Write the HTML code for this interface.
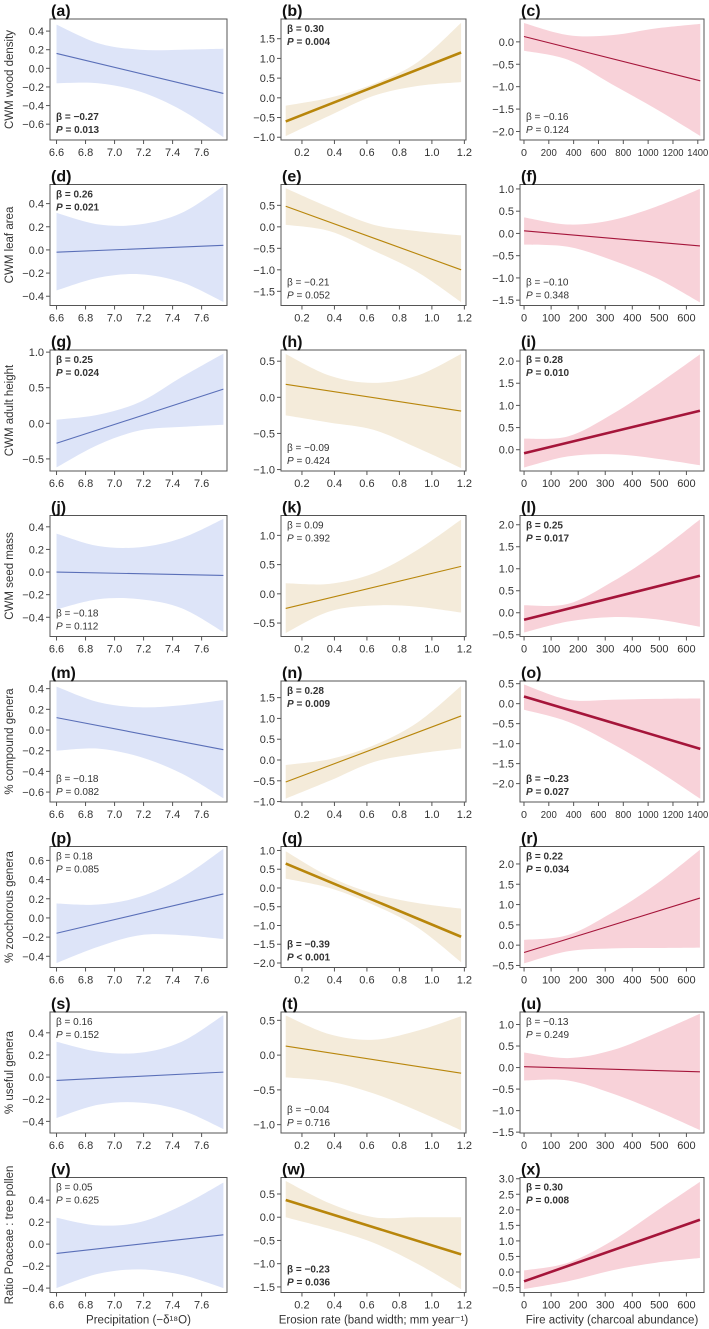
<!DOCTYPE html>
<html><head><meta charset="utf-8"><style>
html,body{margin:0;padding:0;background:#fff;}
svg{display:block;font-family:"Liberation Sans",Arial,sans-serif;}
</style></head><body>
<svg id="fig" width="709" height="1329" viewBox="0 0 709 1329" xmlns="http://www.w3.org/2000/svg"></svg>
<script>
// ---- data ----
const panelLetters = ['a','b','c','d','e','f','g','h','i','j','k','l','m','n','o','p','q','r','s','t','u','v','w','x'];
const rowTitles = ['CWM wood density','CWM leaf area','CWM adult height','CWM seed mass','% compound genera','% zoochorous genera','% useful genera','Ratio Poaceae : tree pollen'];
const yDomains = [[-0.77,0.53],[-1.07,2.0],[-2.19,0.51],[-0.48,0.565],[-1.83,0.985],[-1.62,1.1],[-0.67,1.03],[-1.02,0.655],[-0.48,2.25],[-0.57,0.5],[-0.73,1.34],[-0.54,2.21],[-0.696,0.474],[-1.01,1.9],[-2.46,0.567],[-0.517,0.745],[-2.12,1.106],[-0.55,2.43],[-0.505,0.588],[-1.12,0.62],[-1.52,1.29],[-0.44,0.606],[-1.62,0.855],[-0.66,3.04]];
const yTickLo = [-0.6,-1.0,-2.0,-0.4,-1.5,-1.5,-0.5,-1.0,0.0,-0.4,-0.5,-0.5,-0.6,-1.0,-2.0,-0.4,-2.0,-0.5,-0.4,-1.0,-1.5,-0.4,-1.5,-0.5];
const yTickHi = [0.4,1.5,0.0,0.4,0.5,1.0,1.0,0.5,2.0,0.4,1.0,2.0,0.4,1.5,0.5,0.6,1.0,2.0,0.4,0.5,1.0,0.4,0.5,3.0];
const yTickStep = [0.2,0.5,0.5,0.2,0.5,0.5,0.5,0.5,0.5,0.2,0.5,0.5,0.2,0.5,0.5,0.2,0.5,0.5,0.2,0.5,0.5,0.2,0.5,0.5];
const lineStart = [0.16,-0.6,0.12,-0.02,0.48,0.06,-0.28,0.18,-0.08,0.0,-0.25,-0.16,0.12,-0.53,0.18,-0.16,0.65,-0.18,-0.03,0.13,0.02,-0.085,0.37,-0.3];
const lineEnd = [-0.27,1.15,-0.87,0.04,-1.0,-0.28,0.48,-0.19,0.88,-0.03,0.47,0.84,-0.19,1.06,-1.13,0.25,-1.3,1.16,0.045,-0.26,-0.1,0.085,-0.8,1.68];
const bandUpper = [[0.47,0.27,0.2,0.2,0.21],[-0.2,0.0,0.35,0.9,1.9],[0.42,0.15,0.15,0.3,0.4],[0.32,0.22,0.22,0.32,0.55],[0.9,0.45,0.05,-0.1,-0.2],[0.36,0.2,0.3,0.6,1.0],[0.05,0.12,0.3,0.65,0.98],[0.6,0.3,0.2,0.3,0.6],[0.25,0.3,0.8,1.45,2.15],[0.34,0.23,0.22,0.3,0.47],[0.18,0.17,0.35,0.75,1.27],[0.17,0.2,0.7,1.35,2.12],[0.42,0.27,0.22,0.24,0.29],[-0.12,0.02,0.35,0.9,1.78],[0.48,0.1,0.1,0.12,0.13],[0.15,0.14,0.22,0.42,0.72],[0.98,0.3,-0.15,-0.4,-0.55],[0.13,0.25,0.8,1.5,2.35],[0.32,0.23,0.22,0.32,0.56],[0.57,0.3,0.22,0.35,0.56],[0.35,0.22,0.4,0.8,1.25],[0.24,0.17,0.2,0.35,0.56],[0.78,0.3,0.0,0.0,0.0],[0.05,0.3,1.0,1.95,2.9]];
const bandLower = [[-0.16,-0.16,-0.25,-0.45,-0.74],[-0.97,-0.45,0.05,0.3,0.4],[-0.2,-0.4,-0.95,-1.5,-2.1],[-0.35,-0.24,-0.21,-0.28,-0.45],[0.05,-0.1,-0.55,-1.05,-1.75],[-0.25,-0.3,-0.6,-1.0,-1.55],[-0.62,-0.3,-0.1,-0.05,-0.02],[-0.25,-0.35,-0.45,-0.7,-0.98],[-0.4,-0.15,-0.1,-0.2,-0.35],[-0.33,-0.24,-0.24,-0.32,-0.53],[-0.67,-0.3,-0.2,-0.22,-0.32],[-0.45,-0.2,-0.1,-0.15,-0.32],[-0.2,-0.18,-0.26,-0.42,-0.66],[-0.93,-0.5,-0.05,0.15,0.28],[-0.15,-0.45,-1.0,-1.65,-2.38],[-0.47,-0.3,-0.18,-0.18,-0.22],[0.25,0.0,-0.45,-1.05,-1.98],[-0.45,-0.15,-0.08,-0.07,-0.06],[-0.37,-0.25,-0.23,-0.3,-0.47],[-0.32,-0.38,-0.55,-0.8,-1.08],[-0.3,-0.3,-0.6,-1.0,-1.45],[-0.4,-0.27,-0.23,-0.28,-0.4],[0.0,-0.25,-0.55,-1.0,-1.55],[-0.55,-0.3,0.05,0.3,0.45]];
const betaLabels = ['−0.27','0.30','−0.16','0.26','−0.21','−0.10','0.25','−0.09','0.28','−0.18','0.09','0.25','−0.18','0.28','−0.23','0.18','−0.39','0.22','0.16','−0.04','−0.13','0.05','−0.23','0.30'];
const pLabels = ['= 0.013','= 0.004','= 0.124','= 0.021','= 0.052','= 0.348','= 0.024','= 0.424','= 0.010','= 0.112','= 0.392','= 0.017','= 0.082','= 0.009','= 0.027','= 0.085','< 0.001','= 0.034','= 0.152','= 0.716','= 0.249','= 0.625','= 0.036','= 0.008'];
const significant = [1,1,0,1,0,0,1,0,1,0,0,1,0,1,1,0,1,1,0,0,0,0,1,1];
const thickLine = [0,1,0,0,0,0,0,0,1,0,0,1,0,0,1,0,1,0,0,0,0,0,1,1];
const statsAtTop = [0,1,0,1,0,0,1,0,1,0,1,1,0,1,0,1,0,1,1,0,1,1,0,1];
const fireWide = [1,0,0,0,1,0,0,0]; // column-c panels using 0–1400 axis, by row
const xTitles = ['Precipitation (−δ¹⁸O)','Erosion rate (band width; mm year⁻¹)','Fire activity (charcoal abundance)'];

// ---- layout ----
const NS='http://www.w3.org/2000/svg';
const svg=document.getElementById('fig');
const colL=[50,281,520], colR=[227,466,704];
const TOP0=19, PITCH=165.5;
const colors=[{band:'#dde4f8',line:'#5a6fb8'},{band:'#f4ebda',line:'#b8860b'},{band:'#f8d2d9',line:'#a5153a'}];
function mk(tag,attrs,parent){const e=document.createElementNS(NS,tag);for(const k in attrs)e.setAttribute(k,attrs[k]);(parent||svg).appendChild(e);return e;}
function fmt(v,d){const s=Math.abs(v).toFixed(d);return (v<-1e-9?'−':'')+s;}
function smooth(pts){let d='';for(let i=0;i<pts.length-1;i++){const p0=pts[Math.max(0,i-1)],p1=pts[i],p2=pts[i+1],p3=pts[Math.min(pts.length-1,i+2)];
 const c1=[p1[0]+(p2[0]-p0[0])/6,p1[1]+(p2[1]-p0[1])/6],c2=[p2[0]-(p3[0]-p1[0])/6,p2[1]-(p3[1]-p1[1])/6];
 d+=`C${c1[0].toFixed(1)},${c1[1].toFixed(1)} ${c2[0].toFixed(1)},${c2[1].toFixed(1)} ${p2[0].toFixed(1)},${p2[1].toFixed(1)} `;}return d;}

for(let p=0;p<24;p++){
 const row=Math.floor(p/3), col=p%3;
 const H=row===7?115:121;
 const L=colL[col], R=colR[col], T=TOP0+PITCH*row, B=T+H;
 let xd, xs, xticks, xdec;
 if(col===0){xd=[6.555,7.775];xs=[6.6,7.75];xticks=[6.6,6.8,7.0,7.2,7.4,7.6];xdec=1;}
 else if(col===1){xd=[0.071,1.21];xs=[0.1,1.18];xticks=[0.2,0.4,0.6,0.8,1.0,1.2];xdec=1;}
 else if(fireWide[row]){xd=[-32,1450];xs=[0,1420];xticks=[0,200,400,600,800,1000,1200,1400];xdec=0;}
 else {xd=[-15,665];xs=[0,650];xticks=[0,100,200,300,400,500,600];xdec=0;}
 const yd=yDomains[p];
 const X=v=>L+(v-xd[0])/(xd[1]-xd[0])*(R-L);
 const Y=v=>B-(v-yd[0])/(yd[1]-yd[0])*(B-T);
 const g=mk('g',{});
 
 
 const cp=mk('clipPath',{id:'clip'+p},g);mk('rect',{x:L,y:T,width:R-L,height:H},cp);
 const bx=[0,1,2,3,4].map(i=>xs[0]+(xs[1]-xs[0])*i/4);
 const up=bx.map((x,i)=>[X(x),Y(bandUpper[p][i])]);
 const lo=bx.map((x,i)=>[X(x),Y(bandLower[p][i])]).reverse();
 const band=mk('path',{d:`M${up[0][0].toFixed(1)},${up[0][1].toFixed(1)} `+smooth(up)+`L${lo[0][0].toFixed(1)},${lo[0][1].toFixed(1)} `+smooth(lo)+'Z',fill:colors[col].band,'clip-path':`url(#clip${p})`},g);
 
 
 const ln=mk('line',{x1:X(xs[0]),y1:Y(lineStart[p]),x2:X(xs[1]),y2:Y(lineEnd[p]),stroke:colors[col].line,'stroke-width':thickLine[p]?2.6:1.1},g);
 
 
 const box=mk('rect',{x:L,y:T,width:R-L,height:H,fill:'none',stroke:'#555','stroke-width':1},g);
 
 
 const lab=mk('text',{x:L+1,y:T-3,'font-size':16,'font-weight':'bold',fill:'#111'},g);lab.textContent='('+panelLetters[p]+')';
 
 
 const yt=[];for(let v=yTickLo[p];v<=yTickHi[p]+1e-6;v+=yTickStep[p])yt.push(Math.round(v*10)/10);
 mk('line',{x1:L,x2:L,y1:Y(yt[0]),y2:Y(yt[yt.length-1]),stroke:'#555'},g);
 yt.forEach(v=>{const y=Y(v);mk('line',{x1:L-4,x2:L,y1:y,y2:y,stroke:'#555'},g);
  const t=mk('text',{x:L-6,y:y+4,'font-size':11,'text-anchor':'end',fill:'#333'},g);t.textContent=fmt(v,1);
  
  });
 mk('line',{x1:X(xticks[0]),x2:X(xticks[xticks.length-1]),y1:B,y2:B,stroke:'#555'},g);
 xticks.forEach(v=>{const x=X(v);mk('line',{x1:x,x2:x,y1:B,y2:B+4,stroke:'#555'},g);
  const t=mk('text',{x:x,y:B+16,'font-size':11,'text-anchor':'middle',fill:'#333'},g);t.textContent=xdec?v.toFixed(1):String(v);
  if(fireWide[row]&&col===2){t.setAttribute('font-size',10.5);t.setAttribute('textLength',v>=1000?21:(v>0?16:6));t.setAttribute('lengthAdjust','spacingAndGlyphs');}
  
  });
 const sy=statsAtTop[p]?T+13:B-20;
 const fw=significant[p]?'bold':'normal';
 const t1=mk('text',{x:L+6,y:sy,'font-size':10,'font-weight':fw,fill:'#333'},g);t1.textContent='β = '+betaLabels[p];
 
 
 const t2=mk('text',{x:L+6,y:sy+13,'font-size':10,'font-weight':fw,fill:'#333'},g);
 const ti=mk('tspan',{'font-style':'italic'},t2);ti.textContent='P';
 const tr=mk('tspan',{},t2);tr.textContent=' '+pLabels[p];
 
 
 if(col===0){const cy=(T+B)/2;const yt2=mk('text',{x:0,y:0,'font-size':11.5,'text-anchor':'middle',fill:'#333',transform:`translate(13,${cy}) rotate(-90)`},g);yt2.textContent=rowTitles[row];
  
  }
 if(row===7){const xt=mk('text',{x:(L+R)/2,y:B+31,'font-size':11.5,'text-anchor':'middle',fill:'#333'},g);xt.textContent=xTitles[col];
  
  }
}
</script>
</body></html>
